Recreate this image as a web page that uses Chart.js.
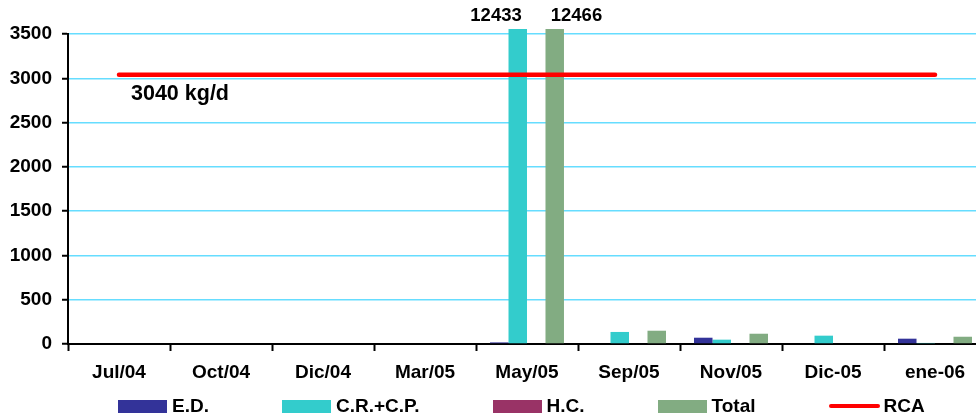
<!DOCTYPE html>
<html>
<head>
<meta charset="utf-8">
<script src="https://cdn.jsdelivr.net/npm/chart.js@4/dist/chart.umd.min.js"></script>
<style>
  html, body { margin: 0; padding: 0; background: #fff; overflow: hidden; }
  #wrap { position: relative; width: 988px; height: 419px; }
  #legend {
    position: absolute; left: 118px; top: 397px; height: 18px;
    display: flex; align-items: center;
    font: bold 19px "Liberation Sans", Arial, sans-serif; color: #000;
    white-space: nowrap;
  }
  .item { display: flex; align-items: center; margin-right: 73px; }
  .swatch { width: 49px; height: 13px; margin-right: 5px; }
  .lineswatch { width: 51px; height: 4px; border-radius: 2px; margin-right: 4px; }
</style>
</head>
<body>
<div id="wrap">
  <canvas id="c" width="988" height="419"></canvas>
  <div id="legend"></div>
</div>
<script>
const categories = ['Jul/04', 'Oct/04', 'Dic/04', 'Mar/05', 'May/05', 'Sep/05', 'Nov/05', 'Dic-05', 'ene-06'];
const edValues    = [0, 0, 0, 0, 18, 0, 71, 0, 60];
const crcpValues  = [0, 0, 0, 0, 12433, 136, 49, 94, 12];
const hcValues    = [0, 0, 0, 0, 0, 0, 0, 0, 0];
const totalValues = [0, 0, 0, 0, 12466, 150, 116, 0, 82];
const rcaLimit = 3040;
const rcaValues = categories.map(() => rcaLimit);
const yTicks = [0, 500, 1000, 1500, 2000, 2500, 3000, 3500];

const FONT = '"Liberation Sans", Arial, sans-serif';
const colors = { ed: '#333399', crcp: '#33CCCC', hc: '#993366', total: '#82AC82', rca: '#FF0000' };

// Values taller than the axis are clipped; print them above the plot instead.
const overflowLabels = {
  id: 'overflowLabels',
  afterDatasetsDraw(chart) {
    const { ctx, chartArea, scales } = chart;
    const maxY = scales.y.max;
    ctx.save();
    ctx.font = 'bold 18.5px ' + FONT;
    const labels = [];
    chart.data.datasets.forEach((ds, di) => {
      if (ds.type === 'line') return;
      const meta = chart.getDatasetMeta(di);
      ds.data.forEach((v, i) => {
        if (v > maxY) {
          const text = String(v);
          labels.push({ text, x: meta.data[i].x, w: ctx.measureText(text).width });
        }
      });
    });
    labels.sort((a, b) => a.x - b.x);
    const gap = 29;
    for (let k = 1; k < labels.length; k++) {
      const a = labels[k - 1], b = labels[k];
      const need = a.w / 2 + b.w / 2 + gap;
      const have = b.x - a.x;
      if (have < need) {
        const shift = (need - have) / 2;
        a.x -= shift; b.x += shift;
      }
    }
    ctx.fillStyle = '#000';
    ctx.textAlign = 'center';
    ctx.textBaseline = 'middle';
    labels.forEach(l => ctx.fillText(l.text, l.x, chartArea.top - 18));
    ctx.restore();
  }
};

// Caption of the limit line, under its first point.
const limitCaption = {
  id: 'limitCaption',
  afterDatasetsDraw(chart) {
    const di = chart.data.datasets.findIndex(d => d.type === 'line');
    const pt = chart.getDatasetMeta(di).data[0];
    const { ctx } = chart;
    ctx.save();
    ctx.font = 'bold 21.5px ' + FONT;
    ctx.fillStyle = '#000';
    ctx.textAlign = 'left';
    ctx.textBaseline = 'middle';
    ctx.fillText(rcaLimit + ' kg/d', pt.x + 12, pt.y + 19);
    ctx.restore();
  }
};

const barClip = { left: 0, top: 5, right: 0, bottom: 0 };

new Chart(document.getElementById('c'), {
  type: 'bar',
  data: {
    labels: categories,
    datasets: [
      { type: 'line', label: 'RCA', data: rcaValues, borderColor: colors.rca, backgroundColor: colors.rca,
        borderWidth: 4.5, borderCapStyle: 'round', pointRadius: 0, tension: 0, order: 0 },
      { label: 'E.D.', data: edValues, backgroundColor: colors.ed, order: 1, clip: barClip },
      { label: 'C.R.+C.P.', data: crcpValues, backgroundColor: colors.crcp, order: 1, clip: barClip },
      { label: 'H.C.', data: hcValues, backgroundColor: colors.hc, order: 1, clip: barClip },
      { label: 'Total', data: totalValues, backgroundColor: colors.total, order: 1, clip: barClip }
    ]
  },
  options: {
    responsive: false,
    animation: false,
    devicePixelRatio: 1,
    layout: { padding: { left: 10, top: 34, right: 2, bottom: 30 } },
    datasets: { bar: { categoryPercentage: 0.725, barPercentage: 1 } },
    plugins: { legend: { display: false }, tooltip: { enabled: false } },
    scales: {
      x: {
        offset: true,
        grid: { offset: true, drawOnChartArea: false, drawTicks: true, tickLength: 7, tickColor: '#000', tickWidth: 2 },
        border: { display: true, color: '#000', width: 2 },
        ticks: { color: '#000', font: { family: FONT, size: 19, weight: 'bold' }, padding: 10, maxRotation: 0, autoSkip: false },
        afterFit(scale) { scale.height = 45; }
      },
      y: {
        min: yTicks[0],
        max: yTicks[yTicks.length - 1],
        afterBuildTicks(scale) { scale.ticks = yTicks.map(v => ({ value: v })); },
        grid: {
          color: c => (c.tick && c.tick.value === 0) ? 'rgba(0,0,0,0)' : '#66DDFF',
          lineWidth: 1.5,
          tickColor: '#000', tickLength: 6, tickWidth: 2
        },
        border: { display: true, color: '#000', width: 2 },
        ticks: {
          color: '#000', font: { family: FONT, size: 19, weight: 'bold' }, padding: 10,
          callback: v => String(v)
        },
        afterFit(scale) { scale.width = 58; }
      }
    }
  },
  plugins: [overflowLabels, limitCaption]
});

// Legend row
const legendItems = [
  { label: 'E.D.', color: colors.ed },
  { label: 'C.R.+C.P.', color: colors.crcp },
  { label: 'H.C.', color: colors.hc },
  { label: 'Total', color: colors.total },
  { label: 'RCA', color: colors.rca, line: true }
];
const legend = document.getElementById('legend');
legendItems.forEach(it => {
  const item = document.createElement('div');
  item.className = 'item';
  const sw = document.createElement('div');
  sw.className = it.line ? 'lineswatch' : 'swatch';
  sw.style.background = it.color;
  const tx = document.createElement('span');
  tx.textContent = it.label;
  item.appendChild(sw);
  item.appendChild(tx);
  legend.appendChild(item);
});
</script>
</body>
</html>
